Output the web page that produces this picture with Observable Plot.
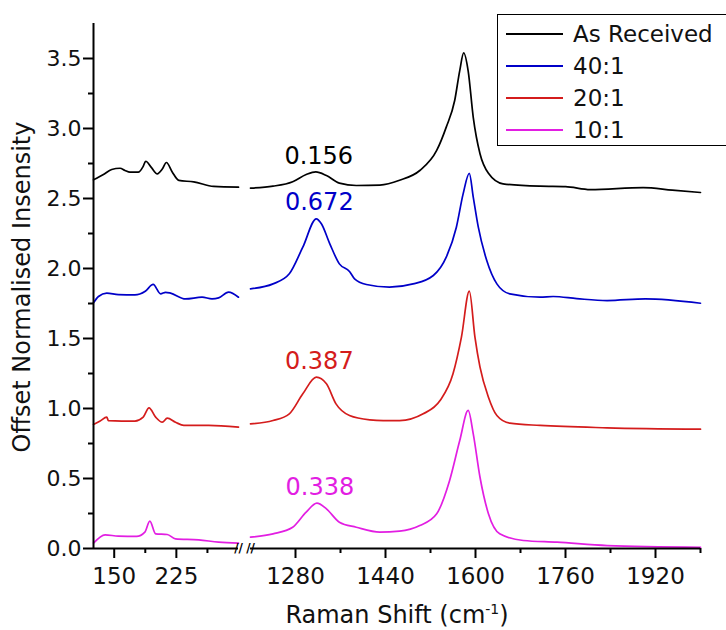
<!DOCTYPE html>
<html>
<head>
<meta charset="utf-8">
<script src="https://cdn.jsdelivr.net/npm/d3@7"></script>
<script src="https://cdn.jsdelivr.net/npm/@observablehq/plot@0.6"></script>
<style>
  html, body { margin: 0; padding: 0; background: #fff; }
  #wrap { position: relative; width: 726px; height: 630px; overflow: hidden; font-family: "DejaVu Sans", sans-serif; color: #111; }
  #wrap svg { position: absolute; left: 0; top: 0; }
  #ytitle { position: absolute; left: -178px; top: 272px; width: 400px; height: 30px; line-height: 30px; text-align: center; font-size: 24px; transform: rotate(-90deg); white-space: nowrap; }
  #xtitle { position: absolute; left: 197px; top: 603px; width: 400px; line-height: 24px; text-align: center; font-size: 24px; white-space: nowrap; }
  #xtitle sup { font-size: 14px; line-height: 0; vertical-align: 9px; }
  #legend { position: absolute; left: 497px; top: 14px; width: 250px; height: 132px; border: 1px solid #000; background: #fff; box-sizing: border-box; }
  .lrow { position: absolute; left: 0; height: 32px; width: 250px; }
  .lline { position: absolute; left: 8px; width: 57px; top: 15px; height: 0; border-top: 2px solid #000; }
  .ltext { position: absolute; left: 75px; top: 0; line-height: 32px; font-size: 23px; white-space: nowrap; }
</style>
</head>
<body>
<div id="wrap">
  <div id="ytitle">Offset Normalised Insensity</div>
  <div id="xtitle">Raman Shift (cm<sup>-1</sup>)</div>
  <div id="legend"></div>
</div>
<script>
// ---- series ----
const seriesNames = ["As Received", "40:1", "20:1", "10:1"];
const seriesColors = ["#000000", "#0000c8", "#d41c1c", "#e21ee2"];
const idigRatios = ["0.156", "0.672", "0.387", "0.338"];

// ---- axes ----
const xDomainLeft = [125, 300];
const xDomainRight = [1200, 2000];
const xMajorTicks = [150, 225, 1280, 1440, 1600, 1760, 1920];
const xMinorTicks = [187.5, 262.5, 1360, 1520, 1680, 1840, 2000];
const yMajorTicks = [0, 0.5, 1.0, 1.5, 2.0, 2.5, 3.0, 3.5];
const yMinorTicks = [0.25, 0.75, 1.25, 1.75, 2.25, 2.75, 3.25];
const yDomain = [0, 3.75];

// ---- As Received (black) ----
const leftX_asReceived = [125, 137, 147, 157, 163, 169, 179, 185, 188, 195, 202, 208, 213, 220, 228, 246, 270, 300];
const leftY_asReceived = [2.633, 2.671, 2.707, 2.716, 2.70, 2.688, 2.688, 2.73, 2.766, 2.72, 2.676, 2.71, 2.757, 2.69, 2.629, 2.619, 2.586, 2.581];
const rightX_asReceived = [1200, 1240, 1275, 1299, 1316, 1335, 1358, 1388, 1430, 1465, 1501, 1531, 1548, 1563, 1572, 1579, 1587, 1596, 1608, 1623, 1649, 1715, 1760, 1804, 1898, 1950, 2000];
const rightY_asReceived = [2.574, 2.588, 2.62, 2.671, 2.69, 2.664, 2.61, 2.593, 2.596, 2.63, 2.70, 2.843, 3.01, 3.2, 3.414, 3.54, 3.41, 3.08, 2.82, 2.68, 2.605, 2.588, 2.585, 2.564, 2.578, 2.56, 2.543];

// ---- 40:1 (blue) ----
const leftX_40 = [125, 131, 141, 155, 175, 187.5, 197, 206, 212, 218, 236, 256, 268, 276, 288, 300];
const leftY_40 = [1.755, 1.80, 1.824, 1.814, 1.812, 1.838, 1.886, 1.819, 1.83, 1.824, 1.783, 1.795, 1.783, 1.79, 1.831, 1.795];
const rightX_40 = [1200, 1240, 1269, 1293, 1317, 1326, 1341, 1358, 1376, 1385, 1406, 1447, 1489, 1525, 1548, 1566, 1578, 1589, 1596, 1605, 1620, 1638, 1661, 1715, 1738, 1780, 1834, 1902, 2000];
const rightY_40 = [1.855, 1.89, 1.962, 2.152, 2.355, 2.319, 2.176, 2.033, 1.979, 1.926, 1.886, 1.867, 1.89, 1.95, 2.081, 2.295, 2.533, 2.68, 2.51, 2.295, 2.057, 1.89, 1.819, 1.795, 1.80, 1.785, 1.771, 1.783, 1.752];

// ---- 20:1 (red) ----
const leftX_20 = [125, 133, 141, 143, 175, 185, 192, 200, 208, 214, 224, 234, 264, 300];
const leftY_20 = [0.886, 0.91, 0.938, 0.914, 0.91, 0.938, 1.005, 0.938, 0.902, 0.931, 0.902, 0.879, 0.879, 0.867];
const rightX_20 = [1200, 1240, 1269, 1293, 1317, 1335, 1352, 1376, 1412, 1436, 1465, 1507, 1537, 1560, 1575, 1589, 1599, 1608, 1623, 1638, 1661, 1715, 1834, 2000];
const rightY_20 = [0.89, 0.914, 0.962, 1.105, 1.224, 1.176, 1.033, 0.95, 0.919, 0.914, 0.914, 0.962, 1.057, 1.248, 1.51, 1.838, 1.51, 1.295, 1.081, 0.95, 0.895, 0.879, 0.862, 0.852];

// ---- 10:1 (magenta) ----
const leftX_10 = [125, 139, 155, 177, 187, 193, 200, 214, 224, 252, 276, 300];
const leftY_10 = [0.038, 0.098, 0.088, 0.086, 0.117, 0.195, 0.105, 0.10, 0.069, 0.062, 0.045, 0.038];
const rightX_10 = [1200, 1240, 1275, 1299, 1318, 1335, 1358, 1388, 1430, 1465, 1501, 1531, 1554, 1572, 1587, 1596, 1608, 1623, 1643, 1685, 1745, 1834, 2000];
const rightY_10 = [0.081, 0.105, 0.152, 0.26, 0.324, 0.283, 0.188, 0.152, 0.117, 0.124, 0.164, 0.248, 0.486, 0.771, 0.986, 0.819, 0.509, 0.248, 0.105, 0.057, 0.045, 0.021, 0.009];

const leftXs = [leftX_asReceived, leftX_40, leftX_20, leftX_10];
const leftYs = [leftY_asReceived, leftY_40, leftY_20, leftY_10];
const rightXs = [rightX_asReceived, rightX_40, rightX_20, rightX_10];
const rightYs = [rightY_asReceived, rightY_40, rightY_20, rightY_10];

// build tidy rows
const rows = [];
seriesNames.forEach((name, i) => {
  leftXs[i].forEach((x, j) => rows.push({series: name, panel: "left", x, y: leftYs[i][j]}));
  rightXs[i].forEach((x, j) => rows.push({series: name, panel: "right", x, y: rightYs[i][j]}));
});

// D-band peak of each spectrum (for the ID/IG labels)
const dPeaks = seriesNames.map((name, i) => {
  const pts = rows.filter(r => r.series === name && r.panel === "right" && r.x >= 1280 && r.x <= 1360);
  const p = d3.greatest(pts, r => r.y);
  return {...p, label: idigRatios[i], color: seriesColors[i]};
});

const axisSegments = [{a: xDomainLeft[0], b: xDomainLeft[1]}, {a: xDomainRight[0], b: xDomainRight[1]}];
const breaks = [{x: xDomainLeft[1]}, {x: xDomainRight[0]}];

const W = 726, H = 630, yZeroPx = 548, mTop = 23;
const marks = [];
seriesNames.forEach((name, i) => {
  marks.push(Plot.line(rows.filter(r => r.series === name), {
    x: "x", y: "y", z: "panel", stroke: seriesColors[i], strokeWidth: 1.7, curve: "monotone-x"
  }));
});
marks.push(Plot.text(dPeaks, {x: "x", y: "y", text: "label", fill: "color", dy: -16, dx: 3, fontSize: 24, fontFamily: "DejaVu Sans"}));
// axis lines
marks.push(Plot.ruleX([xDomainLeft[0]], {y1: yDomain[0], y2: yDomain[1], strokeWidth: 2, stroke: "#000"}));
marks.push(Plot.ruleY(axisSegments, {y: 0, x1: "a", x2: "b", strokeWidth: 2, stroke: "#000"}));
marks.push(Plot.text(breaks, {x: "x", y: 0, text: () => "//", fontSize: 12, fontWeight: "bold", fill: "#000", fontFamily: "DejaVu Sans"}));
// ticks
marks.push(Plot.axisX(xMajorTicks, {tickSize: 10, tickPadding: 9, fontSize: 23, tickFormat: d => String(d), label: null, strokeWidth: 2, fontFamily: "DejaVu Sans", fill: "#111"}));
marks.push(Plot.axisX(xMinorTicks, {tickSize: 5, tickFormat: () => "", label: null, strokeWidth: 2}));
marks.push(Plot.axisY(yMajorTicks, {tickSize: 10, tickPadding: 2, fontSize: 22, tickFormat: d3.format(".1f"), label: null, strokeWidth: 2, fontFamily: "DejaVu Sans", fill: "#111"}));
marks.push(Plot.axisY(yMinorTicks, {tickSize: 5, tickFormat: () => "", label: null, strokeWidth: 2}));

const chart = Plot.plot({
  width: W, height: H,
  marginTop: mTop, marginBottom: H - yZeroPx, marginLeft: 93, marginRight: 26,
  style: {fontFamily: "DejaVu Sans", background: "transparent", color: "#000"},
  x: {type: "linear", domain: [xDomainLeft[0], xDomainLeft[1], xDomainRight[0], xDomainRight[1]], range: [93, 238, 250, 700]},
  y: {domain: yDomain},
  marks
});
document.getElementById("wrap").prepend(chart);

// legend
const legend = document.getElementById("legend");
seriesNames.forEach((name, i) => {
  const row = document.createElement("div");
  row.className = "lrow";
  row.style.top = (3 + i * 32) + "px";
  const line = document.createElement("div");
  line.className = "lline";
  line.style.borderTopColor = seriesColors[i];
  const txt = document.createElement("div");
  txt.className = "ltext";
  txt.textContent = name;
  row.appendChild(line); row.appendChild(txt);
  legend.appendChild(row);
});
</script>
</body>
</html>
